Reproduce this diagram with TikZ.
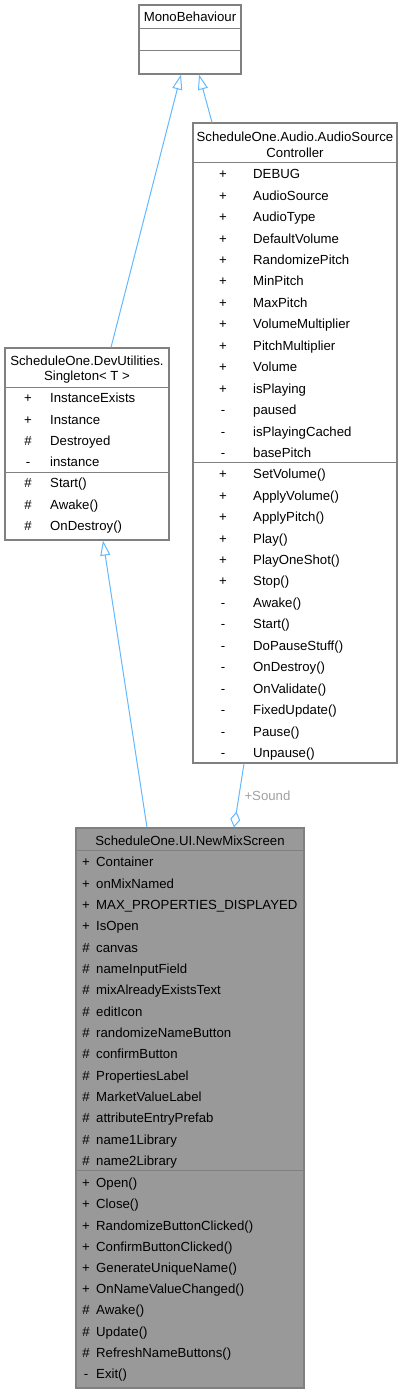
\documentclass[tikz,border=0pt]{standalone}
\usepackage{fontspec}
\setmainfont{Liberation Sans}
\usetikzlibrary{arrows.meta,positioning}
\definecolor{edgeblue}{HTML}{63B8FF}
\definecolor{boxline}{HTML}{808080}
\definecolor{focusfill}{HTML}{999999}
\definecolor{labelgray}{HTML}{A0A0A0}
\newcommand{\umlfont}{\fontsize{13.2}{15.5}\selectfont}
\tikzset{
  classbox/.style={draw=boxline,line width=1.2pt,fill=white,rectangle,inner sep=0pt},
  focusbox/.style={classbox,fill=focusfill},
  classname/.style={font=\umlfont,align=center,inner sep=0pt},
  sign/.style={font=\umlfont,inner sep=0pt,text height=9.4pt,text depth=0pt},
  member/.style={font=\umlfont,inner sep=0pt,anchor=west,text height=9.4pt,text depth=0pt},
  sepline/.style={draw=boxline,line width=1.2pt},
  inherit/.style={draw=edgeblue,line width=1pt,-{Triangle[open,length=15pt,width=10pt]}},
  aggr/.style={draw=edgeblue,line width=1pt,-{Diamond[open,length=16pt,width=10pt]}}
}

\begin{document}
\begin{tikzpicture}[x=1pt,y=-1pt]
  \useasboundingbox (0,0) rectangle (403,1393);
  % class boxes
  \node[classbox,minimum width=102pt,minimum height=69pt] (mono) at (190,39.5) {};
  \node[classbox,minimum width=204pt,minimum height=640pt] (audio) at (295,443) {};
  \node[classbox,minimum width=164pt,minimum height=192pt] (single) at (87,444) {};
  \node[focusbox,minimum width=228pt,minimum height=560pt] (mix) at (190,1108) {};

  % MonoBehaviour
  \node[classname] (mononame) at (190,17) {MonoBehaviour};
  \draw[sepline] ([yshift=-24pt]mono.north west) -- ([yshift=-24pt]mono.north east);
  \draw[sepline] ([yshift=-46pt]mono.north west) -- ([yshift=-46pt]mono.north east);

  % AudioSourceController
  \node[classname] (audioname) at (295,145) {ScheduleOne.Audio.AudioSource\\Controller};
  \draw[sepline] ([yshift=-40pt]audio.north west) -- ([yshift=-40pt]audio.north east);
  \draw[sepline] ([yshift=-340pt]audio.north west) -- ([yshift=-340pt]audio.north east);
  \foreach \s/\t [count=\i from 0] in {+/DEBUG,+/AudioSource,+/AudioType,+/DefaultVolume,
      +/RandomizePitch,+/MinPitch,+/MaxPitch,+/VolumeMultiplier,+/PitchMultiplier,
      +/Volume,+/isPlaying,-/paused,-/isPlayingCached,-/basePitch}{
    \node[sign] (aas\i) at (223,174+21.45*\i) {\s};
    \node[member] (aat\i) at (253,174+21.45*\i) {\t};
  }
  \foreach \s/\t [count=\i from 0] in {+/SetVolume(),+/ApplyVolume(),+/ApplyPitch(),+/Play(),
      +/PlayOneShot(),+/Stop(),-/Awake(),-/Start(),-/DoPauseStuff(),-/OnDestroy(),
      -/OnValidate(),-/FixedUpdate(),-/Pause(),-/Unpause()}{
    \node[sign] (ams\i) at (223,474+21.45*\i) {\s};
    \node[member] (amt\i) at (253,474+21.45*\i) {\t};
  }

  % Singleton
  \node[classname] (singlename) at (87,369.5) {ScheduleOne.DevUtilities.\\Singleton< T >};
  \draw[sepline] ([yshift=-40pt]single.north west) -- ([yshift=-40pt]single.north east);
  \draw[sepline] ([yshift=-125pt]single.north west) -- ([yshift=-125pt]single.north east);
  \foreach \s/\t [count=\i from 0] in {+/InstanceExists,+/Instance,\#/Destroyed,-/instance}{
    \node[sign] (sas\i) at (28,398+21.4*\i) {\s};
    \node[member] (sat\i) at (50,398+21.4*\i) {\t};
  }
  \foreach \s/\t [count=\i from 0] in {\#/Start(),\#/Awake(),\#/OnDestroy()}{
    \node[sign] (sms\i) at (28,483+21.4*\i) {\s};
    \node[member] (smt\i) at (50,483+21.4*\i) {\t};
  }

  % NewMixScreen
  \node[classname] (mixname) at (190,841) {ScheduleOne.UI.NewMixScreen};
  \draw[sepline] ([yshift=-23pt]mix.north west) -- ([yshift=-23pt]mix.north east);
  \draw[sepline] ([yshift=-343pt]mix.north west) -- ([yshift=-343pt]mix.north east);
  \foreach \s/\t [count=\i from 0] in {+/Container,+/onMixNamed,+/MAX\_PROPERTIES\_DISPLAYED,
      +/IsOpen,\#/canvas,\#/nameInputField,\#/mixAlreadyExistsText,\#/editIcon,
      \#/randomizeNameButton,\#/confirmButton,\#/PropertiesLabel,\#/MarketValueLabel,
      \#/attributeEntryPrefab,\#/name1Library,\#/name2Library}{
    \node[sign] (mas\i) at (86,862+21.35*\i) {\s};
    \node[member] (mat\i) at (96,862+21.35*\i) {\t};
  }
  \foreach \s/\t [count=\i from 0] in {+/Open(),+/Close(),+/RandomizeButtonClicked(),
      +/ConfirmButtonClicked(),+/GenerateUniqueName(),+/OnNameValueChanged(),
      \#/Awake(),\#/Update(),\#/RefreshNameButtons(),-/Exit()}{
    \node[sign] (mms\i) at (86,1183+21.2*\i) {\s};
    \node[member] (mmt\i) at (96,1183+21.2*\i) {\t};
  }

  % relations
  \draw[inherit] ([xshift=24pt]single.north) -- ([xshift=-9pt]mono.south);
  \draw[inherit] ([xshift=-83pt]audio.north) -- ([xshift=9pt]mono.south);
  \draw[inherit] ([xshift=-43pt]mix.north) -- ([xshift=16pt]single.south);
  \draw[aggr] ([xshift=-51pt]audio.south) -- node[pos=0.5,anchor=west,xshift=5pt,
      font=\umlfont,text=labelgray,inner sep=0pt] (soundlabel) {+Sound} ([xshift=44pt]mix.north);
\end{tikzpicture}
\end{document}
